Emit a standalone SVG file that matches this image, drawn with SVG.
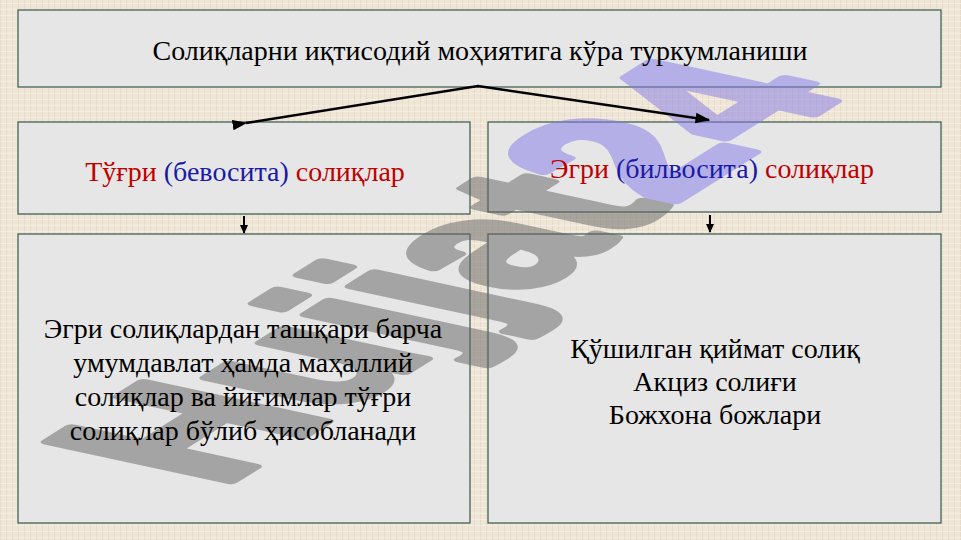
<svg xmlns="http://www.w3.org/2000/svg" width="961" height="540" viewBox="0 0 961 540">
<defs>
<pattern id="linen" width="6" height="6" patternUnits="userSpaceOnUse">
<rect width="6" height="6" fill="#efe6d7"/>
<rect x="0" y="0" width="1" height="6" fill="#e0d3bf" opacity="0.6"/>
<rect x="0" y="3" width="6" height="1" fill="#f7f1e6" opacity="0.7"/>
</pattern>
<marker id="ah" viewBox="0 0 10 10" refX="9" refY="5" markerWidth="6" markerHeight="6" orient="auto" markerUnits="strokeWidth">
<path d="M0,1.5 L10,5 L0,8.5 z" fill="#000"/>
</marker>
<marker id="ah2" viewBox="0 0 10 10" refX="9" refY="5" markerWidth="4.5" markerHeight="4.5" orient="auto" markerUnits="strokeWidth">
<path d="M0,0.5 L10,5 L0,9.5 z" fill="#000"/>
</marker>
</defs>
<style>
.box{fill:#e6e6e6;stroke:#35574a;stroke-width:1.2}
.t{font-family:"Liberation Serif","Times New Roman",serif;font-size:28px;fill:#000;text-anchor:middle}
.red{fill:#c00000}
.blue{fill:#1a1aa6}
.wm{font-family:"Liberation Sans",Arial,sans-serif;font-weight:bold;font-size:100px;stroke-width:5;stroke-linejoin:round}
.con{stroke:#000;fill:none}
</style>
<rect width="961" height="540" fill="url(#linen)"/>
<g id="top"><rect class="box" x="18" y="10" width="923" height="77"/></g>
<g id="direct"><rect class="box" x="18" y="122" width="452" height="92"/></g>
<g id="indirect"><rect class="box" x="488" y="122" width="453" height="90"/></g>
<g id="direct-desc"><rect class="box" x="18" y="234" width="452" height="289"/></g>
<g id="indirect-desc"><rect class="box" x="488" y="234" width="453" height="289"/></g>
<g id="watermark" opacity="0.5">
<text class="wm" transform="matrix(1.62,-1.02,2.65,0.57,220,488)"><tspan fill="#646464" stroke="#646464">Hujjat</tspan><tspan fill="#847ae8" stroke="#847ae8">24</tspan></text>
</g>
<g id="connectors">
<polyline class="con" stroke-width="2.5" points="246,123 478,86 709,120" marker-start="url(#ah)" marker-end="url(#ah)"/>
<line class="con" stroke-width="2" x1="244" y1="216" x2="244" y2="233" marker-end="url(#ah2)"/>
<line class="con" stroke-width="2" x1="710" y1="215" x2="710" y2="232" marker-end="url(#ah2)"/>
</g>
<g id="labels">
<text class="t" x="480" y="60">Солиқларни иқтисодий моҳиятига кўра туркумланиши</text>
<text class="t" x="245" y="181"><tspan class="red">Тўғри </tspan><tspan class="blue">(бевосита)</tspan><tspan class="red"> солиқлар</tspan></text>
<text class="t" x="712" y="178"><tspan class="red">Эгри </tspan><tspan class="blue">(билвосита)</tspan><tspan class="red"> солиқлар</tspan></text>
<text class="t" x="243"><tspan x="243" y="338">Эгри солиқлардан ташқари барча</tspan><tspan x="243" y="372">умумдавлат ҳамда маҳаллий</tspan><tspan x="243" y="406">солиқлар ва йиғимлар тўғри</tspan><tspan x="243" y="440">солиқлар бўлиб ҳисобланади</tspan></text>
<text class="t" x="715"><tspan x="715" y="358">Қўшилган қиймат солиқ</tspan><tspan x="715" y="391">Акциз солиғи</tspan><tspan x="715" y="424">Божхона божлари</tspan></text>
</g>
</svg>
